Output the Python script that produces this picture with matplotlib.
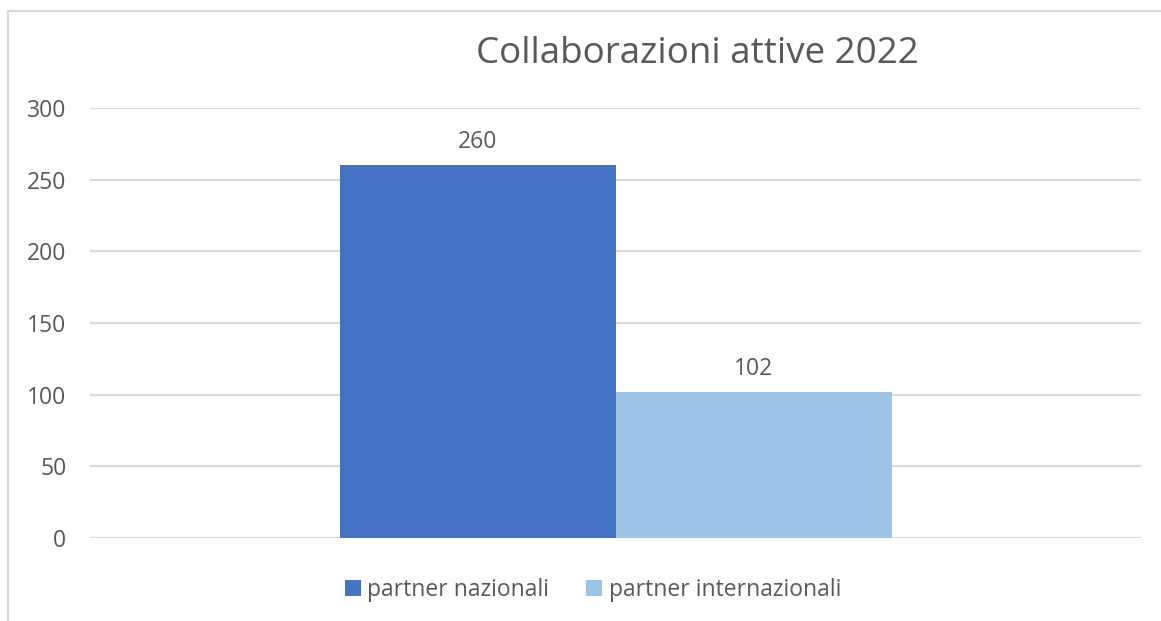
import matplotlib.pyplot as plt
from matplotlib.patches import Rectangle

TITLE = "Collaborazioni attive 2022"
SERIES = ["partner nazionali", "partner internazionali"]
VALUES = [260, 102]
COLORS = ["#4472C4", "#9DC3E6"]
Y_TICKS = [0, 50, 100, 150, 200, 250, 300]

TEXT = "#595959"
GRID = "#D9D9D9"
FS = 16.5

plt.rcParams["font.family"] = ["Open Sans", "DejaVu Sans"]

W, H = 1161, 621
fig = plt.figure(figsize=(W / 100, H / 100), dpi=100)

# chart frame (runs off the right and bottom edges)
fig.patches.append(Rectangle((8 / W, -0.1), 1.2, 1.1 - 10.5 / H, transform=fig.transFigure,
                             fill=False, edgecolor=GRID, linewidth=1.5))

ax = fig.add_axes([90 / W, (H - 538) / H, (1141 - 90) / W, (538 - 108) / H])

width = 276 / 1051
offsets = [-width / 2, width / 2]
for name, val, col, off in zip(SERIES, VALUES, COLORS, offsets):
    ax.bar(off, val, width=width, color=col, label=name, zorder=3)
    ax.annotate(str(val), (off, val), xytext=(0, 8), textcoords="offset points",
                ha="center", va="bottom", fontsize=FS, color=TEXT)

ax.set_xlim(-0.5, 0.5)
ax.set_ylim(0, 300)
ax.set_yticks(Y_TICKS)
ax.set_xticks([])
ax.yaxis.grid(True, color=GRID, linewidth=1.5, zorder=0)
ax.tick_params(axis="y", length=0, pad=17, labelsize=FS, labelcolor=TEXT)
for s in ax.spines.values():
    s.set_visible(False)

fig.text(697 / W, (H - 54) / H, TITLE, ha="center", va="center", fontsize=26.5, color=TEXT)

fig.legend(loc="center", bbox_to_anchor=(593 / W, (H - 590) / H), ncol=2, frameon=False,
           fontsize=FS, labelcolor=TEXT, handlelength=0.7, handleheight=0.7,
           handletextpad=0.3, columnspacing=1.6)

fig.savefig("out.png", dpi=100)
